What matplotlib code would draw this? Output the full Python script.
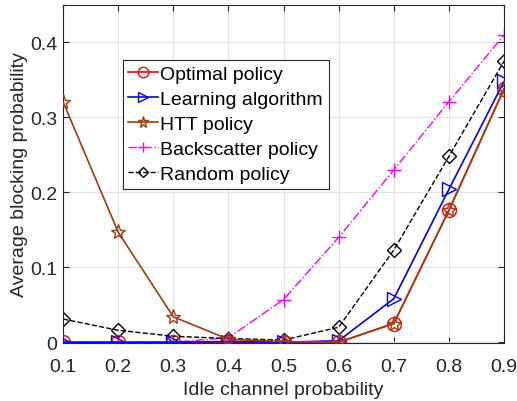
import numpy as np
import matplotlib
matplotlib.use('Agg')
import matplotlib.pyplot as plt

plt.rcParams['font.family'] = ['Liberation Sans', 'DejaVu Sans']

# data
p_idle = [0.1, 0.2, 0.3, 0.4, 0.5, 0.6, 0.7, 0.8, 0.9]
optimal = [0.0, 0.0, 0.0, 0.0, 0.0, 0.0, 0.025, 0.176, 0.338]
learning = [0.0, 0.0, 0.0, 0.001, 0.0, 0.002, 0.058, 0.204, 0.348]
htt = [0.321, 0.147, 0.034, 0.004, 0.001, 0.0, 0.025, 0.176, 0.338]
backscatter = [0.0, 0.0, 0.0, 0.006, 0.057, 0.140, 0.230, 0.321, 0.410]
random_pol = [0.031, 0.016, 0.008, 0.005, 0.003, 0.020, 0.123, 0.248, 0.375]

fig = plt.figure(figsize=(5.17, 4.02), dpi=100)
ax = fig.add_axes([63/517, 58/402, 441/517, 338/402])

ax.plot(p_idle, optimal, '-o', color='red', mfc='none', ms=10, lw=1.2, label='Optimal policy', zorder=3)
ax.plot(p_idle, learning, '->', color='blue', mfc='none', ms=10, lw=1.2, label='Learning algorithm', zorder=4)
ax.plot(p_idle, htt, '-*', color='#a33b10', mfc='none', ms=11, lw=1.2, label='HTT policy', zorder=5)
ax.plot(p_idle, backscatter, '-.+', color='magenta', ms=10, lw=1.0, label='Backscatter policy', zorder=2)
ax.plot(p_idle, random_pol, '--D', color='black', mfc='none', ms=7, lw=1.0, label='Random policy', zorder=2)

ax.set_xlim(0.1, 0.9)
ax.set_ylim(-0.001, 0.45)
ax.set_xticks(p_idle)
ax.set_xticklabels(['0.1', '0.2', '0.3', '0.4', '0.5', '0.6', '0.7', '0.8', '0.9'])
ax.set_yticks([0, 0.1, 0.2, 0.3, 0.4])
ax.set_yticklabels(['0', '0.1', '0.2', '0.3', '0.4'])
ax.tick_params(direction='in', labelsize=14, colors='#262626', top=True, right=True, length=4)
ax.tick_params(axis='x', pad=11)
ax.tick_params(axis='y', pad=4)
ax.grid(True, color='#e3e3e3', lw=0.8)
ax.set_axisbelow(True)
for s in ax.spines.values():
    s.set_color('#262626')
    s.set_linewidth(0.8)

ax.set_xlabel('Idle channel probability', fontsize=14, color='#262626', labelpad=4)
ax.set_ylabel('Average blocking probability', fontsize=14, color='#262626', labelpad=1.5)

leg = ax.legend(loc='upper left', bbox_to_anchor=(0.135, 0.838), borderaxespad=0, fontsize=14,
                frameon=True, fancybox=False, edgecolor='#262626', framealpha=1, markerscale=0.75,
                handlelength=1.5, handletextpad=0.15, borderpad=0.3, labelspacing=0.38)
leg.get_frame().set_linewidth(0.8)

fig.savefig('out.png', dpi=100)
